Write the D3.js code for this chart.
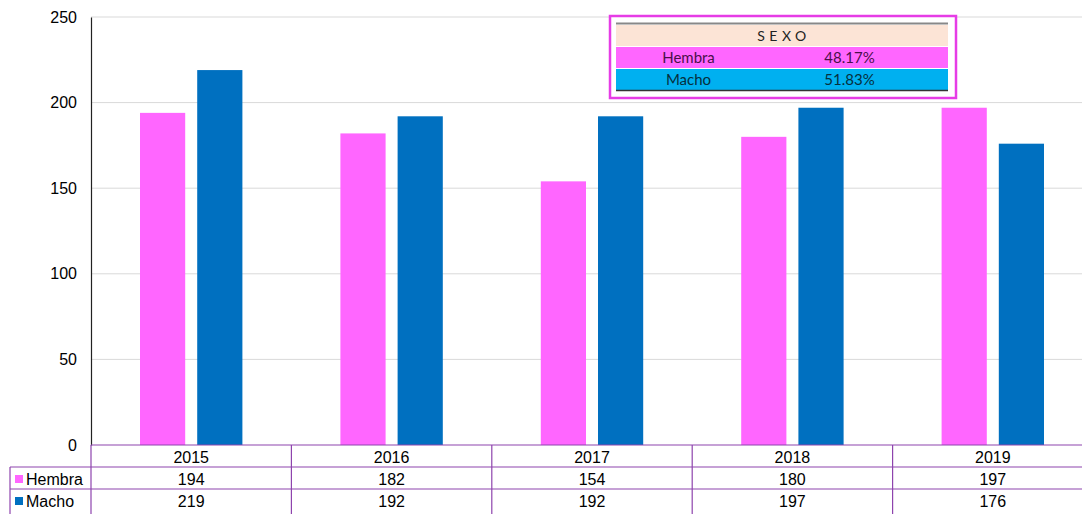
<!DOCTYPE html>
<html><head><meta charset="utf-8">
<script src="https://cdn.jsdelivr.net/npm/d3@7"></script>
<style>body{margin:0;background:#fff;overflow:hidden}svg{display:block;font-family:"Liberation Sans",Arial,sans-serif}</style>
</head><body><svg id="c" width="1082" height="514"></svg>
<script>
const years = ["2015","2016","2017","2018","2019"];
const hembra = [194,182,154,180,197];
const macho = [219,192,192,197,176];
const seriesNames = ["Hembra","Macho"];
const seriesColors = ["#FF66FF","#0070C0"];
const yTicks = [0,50,100,150,200,250];
const sexoLabels = ["Hembra","Macho"];
const sexoPct = ["48.17%","51.83%"];

const svg = d3.select("#c");
const pLeft = 91, pRight = 1093, pTop = 17, pBottom = 445;
const x = d3.scaleBand().domain(years).range([pLeft,pRight]);
const y = d3.scaleLinear().domain([0,250]).range([pBottom,pTop]);
const inner = d3.scaleBand().domain(seriesNames).range([49, x.bandwidth()-49]).paddingInner(0.21);

// gridlines
svg.append("g").selectAll("line").data(yTicks.filter(d=>d>0)).join("line")
  .attr("x1",pLeft).attr("x2",1082).attr("y1",d=>y(d)).attr("y2",d=>y(d))
  .attr("stroke","#d9d9d9").attr("stroke-width",1);

// y axis
const yAxis = svg.append("g").attr("transform",`translate(${pLeft},0)`)
  .call(d3.axisLeft(y).tickValues(yTicks).tickSize(0).tickPadding(14));
yAxis.select(".domain").attr("stroke","#222").attr("stroke-width",1.2);
yAxis.selectAll("text").attr("font-size",16).attr("fill","#000").attr("font-family","Liberation Sans, Arial, sans-serif");

// bars
const data = [hembra, macho];
seriesNames.forEach((s,i)=>{
  svg.append("g").selectAll("rect").data(years).join("rect")
    .attr("x",d=>x(d)+inner(s)).attr("width",inner.bandwidth())
    .attr("y",(d,j)=>y(data[i][j])).attr("height",(d,j)=>pBottom-y(data[i][j]))
    .attr("fill",seriesColors[i]);
});

// data table
const rowH = 22, tableLeft = 10;
const lineColor = "#8E44AD";
const tg = svg.append("g");
const rows = [pBottom, pBottom+rowH, pBottom+2*rowH, pBottom+3*rowH];
tg.append("line").attr("x1",pLeft).attr("x2",1082).attr("y1",rows[0]).attr("y2",rows[0]).attr("stroke",lineColor).attr("stroke-width",1.2);
[rows[1],rows[2]].forEach(yy=>tg.append("line").attr("x1",tableLeft).attr("x2",1082).attr("y1",yy).attr("y2",yy).attr("stroke",lineColor).attr("stroke-width",1.2));
tg.append("line").attr("x1",tableLeft).attr("x2",tableLeft).attr("y1",rows[1]).attr("y2",514).attr("stroke",lineColor).attr("stroke-width",1.2);
years.forEach(yr=>{
  const xx = x(yr);
  tg.append("line").attr("x1",xx).attr("x2",xx).attr("y1",rows[0]).attr("y2",514).attr("stroke",lineColor).attr("stroke-width",1.2);
});
tg.selectAll("text.yr").data(years).join("text").attr("class","yr")
  .attr("x",d=>x(d)+x.bandwidth()/2).attr("y",rows[0]+rowH/2+7)
  .attr("text-anchor","middle").attr("font-size",16).text(d=>d);
data.forEach((arr,i)=>{
  tg.selectAll("text.v"+i).data(arr).join("text").attr("class","v"+i)
    .attr("x",(d,j)=>x(years[j])+x.bandwidth()/2).attr("y",rows[i+1]+rowH/2+7)
    .attr("text-anchor","middle").attr("font-size",16).text(d=>d);
  tg.append("rect").attr("x",15).attr("y",rows[i+1]+rowH/2-3).attr("width",8).attr("height",8).attr("fill",seriesColors[i]);
  tg.append("text").attr("x",26).attr("y",rows[i+1]+rowH/2+7).attr("font-size",16).text(seriesNames[i]);
});

// SEXO inset table
const lg = svg.append("g");
const lx = 616, lw = 332, split = 783;
const lf = "Lato, 'Open Sans', sans-serif";
lg.append("rect").attr("x",610).attr("y",16).attr("width",346).attr("height",82).attr("fill","#fff").attr("stroke","#E63CE6").attr("stroke-width",2.5);
lg.append("line").attr("x1",lx).attr("x2",lx+lw).attr("y1",23.5).attr("y2",23.5).attr("stroke","#888").attr("stroke-width",2);
lg.append("rect").attr("x",lx).attr("y",25).attr("width",lw).attr("height",21).attr("fill","#FCE4D6");
lg.append("text").attr("x",lx+lw/2+2).attr("y",41).attr("text-anchor","middle").attr("font-size",14)
  .attr("letter-spacing","4.5px").attr("fill","#222").attr("font-family",lf).text("SEXO");
const rowFill = ["#FF66FF","#00B0F0"];
const textFill = ["#4a104a","#062f3d"];
sexoLabels.forEach((s,i)=>{
  const yy = 47 + i*22;
  lg.append("rect").attr("x",lx).attr("y",yy).attr("width",lw).attr("height",21).attr("fill",rowFill[i]);
  lg.append("text").attr("x",(lx+split)/2-11).attr("y",yy+16).attr("text-anchor","middle").attr("font-size",15)
    .attr("fill",textFill[i]).attr("font-family",lf).text(s);
  lg.append("text").attr("x",(split+lx+lw)/2-16).attr("y",yy+16).attr("text-anchor","middle").attr("font-size",15)
    .attr("fill",textFill[i]).attr("font-family",lf).text(sexoPct[i]);
});
lg.append("line").attr("x1",lx).attr("x2",lx+lw).attr("y1",46.5).attr("y2",46.5).attr("stroke","#fff").attr("stroke-width",1);
lg.append("line").attr("x1",lx).attr("x2",lx+lw).attr("y1",90.5).attr("y2",90.5).attr("stroke","#333").attr("stroke-width",1.5);
</script></body></html>
